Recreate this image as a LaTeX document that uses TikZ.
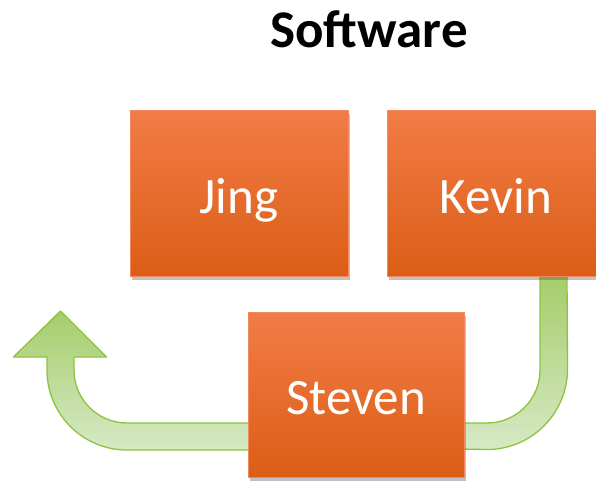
\documentclass[tikz,border=0pt]{standalone}
\usepackage{fontspec}
\setmainfont{Carlito}
\usetikzlibrary{shadows,calc,backgrounds}
\definecolor{boxtop}{HTML}{F27C47}
\definecolor{boxbot}{HTML}{DB5E16}
\definecolor{boxedge}{HTML}{EE8A5C}
\definecolor{gtop}{HTML}{A6CD6B}
\definecolor{gbot}{HTML}{D6E9C5}
\definecolor{gedge}{HTML}{8DC43F}
\tikzset{
  person/.style={rectangle, minimum width=218pt, minimum height=166pt, inner sep=0pt,
    top color=boxtop, bottom color=boxbot, draw=boxedge, line width=0.5pt,
    text=white, font=\fontsize{51}{60}\selectfont, text height=44pt, text depth=4pt,
    drop shadow={shadow xshift=2pt, shadow yshift=-4pt, opacity=0.35, fill=black!70}},
  band/.style={top color=gtop, bottom color=gbot, draw=gedge, line width=1.3pt, line join=round},
  title/.style={font=\bfseries\fontsize{53}{62}\selectfont, text=black, text height=36pt, text depth=0pt, inner sep=0pt}
}
\begin{document}
\begin{tikzpicture}[x=1pt,y=1pt]
\useasboundingbox (0,0) rectangle (596,-482);
\clip (0,0) rectangle (596,-482);
\node[title, anchor=base] (title) at (369,-47) {Software};
\node[person] (jing) at (239,-193) {Jing};
\node[person] (kevin) at (496,-193) {Kevin};
\node[person, minimum width=216pt, minimum height=165pt] (steven) at (356,-394.5) {Steven};
\coordinate (tip) at (60.5,-311);
\begin{scope}[on background layer]
% band from Kevin to Steven
\path[band] ($(kevin.south)+(44,0)$) -- (540,-370) arc[start angle=0,end angle=-90,radius=53]
  -- ($(steven.east)+(-6,-28.5)$) -- ($(steven.east)+(-6,-54.5)$) -- (487,-449.5)
  arc[start angle=-90,end angle=0,radius=80.5] -- ($(kevin.south)+(71,0)$) -- cycle;
% band from Steven to arrow tip
\path[band] ($(steven.west)+(6,-28.5)$) -- (127,-423) arc[start angle=-90,end angle=-180,radius=53]
  -- (74,-357) -- (106.5,-357) -- (tip) -- (13.5,-357) -- (47,-357) -- (47,-370)
  arc[start angle=180,end angle=270,radius=80] -- ($(steven.west)+(6,-55.5)$) -- cycle;
\end{scope}
\end{tikzpicture}
\end{document}
